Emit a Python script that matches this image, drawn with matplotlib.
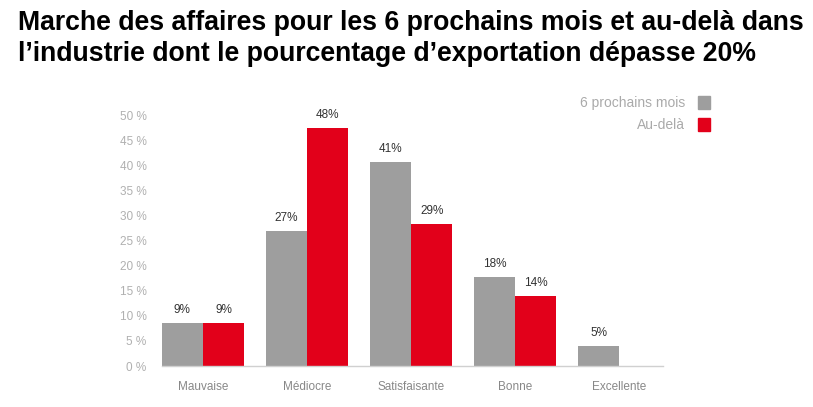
import matplotlib.pyplot as plt
import numpy as np

# données
categories = ["Mauvaise", "Médiocre", "Satisfaisante", "Bonne", "Excellente"]
next_6m = [8.6, 26.9, 40.7, 17.7, 4.0]
beyond = [8.6, 47.4, 28.4, 14.0, None]
labels_6m = ["9%", "27%", "41%", "18%", "5%"]
labels_beyond = ["9%", "48%", "29%", "14%", ""]
yticks = [0, 5, 10, 15, 20, 25, 30, 35, 40, 45, 50]

GREY = "#9e9e9e"
RED = "#e2001a"

plt.rcParams["font.family"] = ["Liberation Sans", "DejaVu Sans"]

fig = plt.figure(figsize=(8.13, 4.07), dpi=100)
ax = fig.add_axes([0.199, 0.1007, 0.616, 0.616])

x = np.arange(len(categories))
w = 0.395
for i in range(len(categories)):
    ax.bar(x[i] - w / 2, next_6m[i], w, color=GREY, linewidth=0)
    ax.text(x[i] - w / 2, next_6m[i] + 1.4, labels_6m[i], ha="center", va="bottom",
            fontsize=8.5, color="#333333")
    if beyond[i] is not None:
        ax.bar(x[i] + w / 2, beyond[i], w, color=RED, linewidth=0)
        ax.text(x[i] + w / 2, beyond[i] + 1.4, labels_beyond[i], ha="center",
                va="bottom", fontsize=8.5, color="#333333")

ax.set_xlim(-w, len(categories) - 1 + w + 0.02)
ax.set_ylim(0, 50)
ax.set_yticks(yticks)
ax.set_yticklabels([f"{t} %" for t in yticks], fontsize=8.5, color="#b0b0b0")
ax.set_xticks(x)
ax.set_xticklabels(categories, fontsize=8.5, color="#888888")
ax.tick_params(axis="both", length=0)
ax.tick_params(axis="y", pad=11)
ax.tick_params(axis="x", pad=11)
for s in ["top", "right", "left"]:
    ax.spines[s].set_visible(False)
ax.spines["bottom"].set_color("#d0d0d0")
ax.spines["bottom"].set_linewidth(1)

# légende
fig.text(0.843, 0.748, "6 prochains mois", ha="right", va="center", fontsize=10,
         color="#aaaaaa")
fig.text(0.843, 0.693, "Au-delà", ha="right", va="center", fontsize=10,
         color="#aaaaaa")
fig.patches.append(plt.Rectangle((0.858, 0.733), 0.0155, 0.031, color=GREY,
                                 transform=fig.transFigure, figure=fig))
fig.patches.append(plt.Rectangle((0.858, 0.678), 0.0155, 0.031, color=RED,
                                 transform=fig.transFigure, figure=fig))

# titre : taille ajustée pour tenir dans la largeur (pas de police étroite)
title = fig.text(0.022, 0.975,
                 "Marche des affaires pour les 6 prochains mois et au-delà dans\n"
                 "l\u2019industrie dont le pourcentage d\u2019exportation dépasse 20%",
                 ha="left", va="top", fontsize=20, fontweight="bold", color="black",
                 linespacing=1.25)
renderer = fig.canvas.get_renderer()
bw = title.get_window_extent(renderer).width
title.set_fontsize(20 * 785 / bw)

fig.savefig("out.png", dpi=100)
